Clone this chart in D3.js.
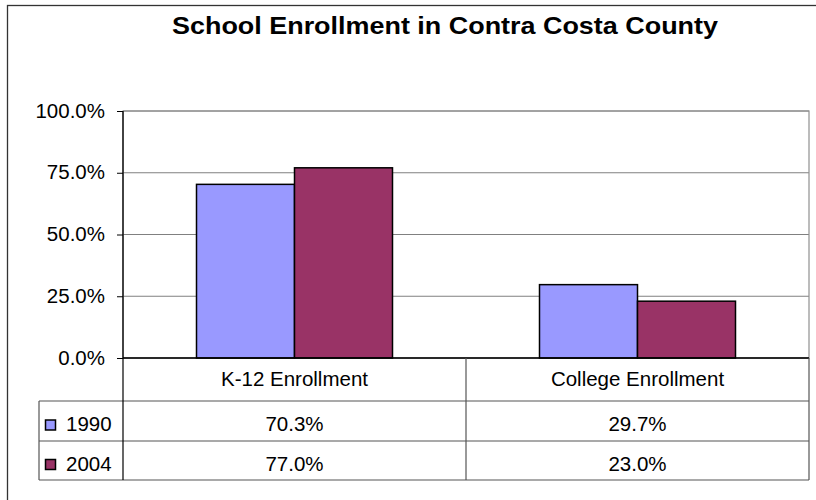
<!DOCTYPE html>
<html>
<head>
<meta charset="utf-8">
<script src="https://cdn.jsdelivr.net/npm/d3@7"></script>
<style>
  body { margin: 0; background: #fff; }
  text { font-family: "Liberation Sans", Arial, sans-serif; fill: #000; }
</style>
</head>
<body>
<div id="chart"></div>
<script>
// chart data
var categories = ["K-12 Enrollment", "College Enrollment"];
var seriesNames = ["1990", "2004"];
var values1990 = [70.3, 29.7];
var values2004 = [77.0, 23.0];
var yTicks = [0, 25, 50, 75, 100];
var colors = ["#9999ff", "#993366"];

var series = [values1990, values2004];

var svgWidth = 816, svgHeight = 500;
var fontSize = "20.5px";

// plot area
var margin = { top: 111, left: 123, right: 7, bottom: 142 };
var chartWidth = svgWidth - margin.left - margin.right;
var chartHeight = svgHeight - margin.top - margin.bottom;

var svg = d3.select("#chart").append("svg")
    .attr("width", svgWidth)
    .attr("height", svgHeight);

// outer frame (runs off the right and bottom edges)
svg.append("rect")
    .attr("x", 7.5).attr("y", 5.5)
    .attr("width", 900).attr("height", 600)
    .attr("fill", "#fff")
    .attr("stroke", "#333")
    .attr("stroke-width", 1.3);

// title
svg.append("text")
    .attr("x", 445).attr("y", 34)
    .attr("text-anchor", "middle")
    .attr("textLength", 546)
    .attr("lengthAdjust", "spacingAndGlyphs")
    .style("font-size", "24px")
    .style("font-weight", "bold")
    .text("School Enrollment in Contra Costa County");

var chartGroup = svg.append("g")
    .attr("transform", `translate(${margin.left}, ${margin.top})`);

var xScale = d3.scaleBand()
    .domain(categories)
    .range([0, chartWidth]);

// gap width 150% like the spreadsheet default
var barWidth = xScale.bandwidth() / (series.length + 1.5);

var yScale = d3.scaleLinear()
    .domain([0, 100])
    .range([chartHeight, 0]);

// gridlines
chartGroup.selectAll(".grid")
    .data(yTicks)
    .enter()
    .append("line")
    .attr("x1", 0).attr("x2", chartWidth)
    .attr("y1", d => yScale(d)).attr("y2", d => yScale(d))
    .attr("stroke", "#808080")
    .attr("stroke-width", 1.2);

// plot frame
chartGroup.append("rect")
    .attr("x", 0).attr("y", 0)
    .attr("width", chartWidth).attr("height", chartHeight)
    .attr("fill", "none")
    .attr("stroke", "#909090")
    .attr("stroke-width", 1.2);

// bars
series.forEach(function(vals, i) {
  chartGroup.selectAll(".bar" + i)
    .data(vals)
    .enter()
    .append("rect")
    .attr("x", (d, j) => xScale(categories[j]) + xScale.bandwidth() / 2 - barWidth + i * barWidth)
    .attr("y", d => yScale(d))
    .attr("width", barWidth)
    .attr("height", d => chartHeight - yScale(d))
    .attr("fill", colors[i])
    .attr("stroke", "#000")
    .attr("stroke-width", 1.5);
});

// y axis
var leftAxis = d3.axisLeft(yScale)
    .tickValues(yTicks)
    .tickSize(6)
    .tickPadding(12)
    .tickFormat(d => d.toFixed(1) + "%");

var yAxisG = chartGroup.append("g").call(leftAxis);
yAxisG.select(".domain").remove();
yAxisG.selectAll("line").attr("stroke", "#000");
yAxisG.selectAll("text")
    .style("font-family", "'Liberation Sans', Arial, sans-serif")
    .style("font-size", fontSize)
    .attr("dy", "0.3em");

// axis lines
chartGroup.append("line")
    .attr("x1", 0).attr("x2", 0)
    .attr("y1", 0).attr("y2", chartHeight)
    .attr("stroke", "#000").attr("stroke-width", 1.3);
chartGroup.append("line")
    .attr("x1", 0).attr("x2", chartWidth)
    .attr("y1", chartHeight).attr("y2", chartHeight)
    .attr("stroke", "#000").attr("stroke-width", 1.3);

// data table under the plot
var rowY = [358, 401, 441, 480];
var tableLeft = 39;
var tableColor = "#555";
var table = svg.append("g");

// horizontal rules
table.selectAll(".hrule")
    .data(rowY.slice(1))
    .enter()
    .append("line")
    .attr("x1", tableLeft).attr("x2", margin.left + chartWidth)
    .attr("y1", d => d).attr("y2", d => d)
    .attr("stroke", tableColor).attr("stroke-width", 1.2);

// vertical rules
var colEdges = [margin.left].concat(categories.map(c => margin.left + xScale(c) + xScale.bandwidth()));
table.selectAll(".vrule")
    .data(colEdges)
    .enter()
    .append("line")
    .attr("x1", d => d).attr("x2", d => d)
    .attr("y1", rowY[0]).attr("y2", rowY[3])
    .attr("stroke", (d, i) => i === 0 ? "#000" : tableColor)
    .attr("stroke-width", 1.2);
table.append("line")
    .attr("x1", tableLeft).attr("x2", tableLeft)
    .attr("y1", rowY[1]).attr("y2", rowY[3])
    .attr("stroke", tableColor).attr("stroke-width", 1.2);

// category labels
table.selectAll(".cat")
    .data(categories)
    .enter()
    .append("text")
    .attr("x", d => margin.left + xScale(d) + xScale.bandwidth() / 2)
    .attr("y", 379)
    .attr("dy", "0.35em")
    .attr("text-anchor", "middle")
    .style("font-size", fontSize)
    .text(d => d);

// value rows
series.forEach(function(vals, i) {
  var cy = (rowY[i + 1] + rowY[i + 2]) / 2 + 3;
  table.selectAll(".val" + i)
    .data(vals)
    .enter()
    .append("text")
    .attr("x", (d, j) => margin.left + xScale(categories[j]) + xScale.bandwidth() / 2)
    .attr("y", cy)
    .attr("dy", "0.35em")
    .attr("text-anchor", "middle")
    .style("font-size", fontSize)
    .text(d => d.toFixed(1) + "%");

  // legend key
  table.append("rect")
    .attr("x", 45.5).attr("y", cy - 4)
    .attr("width", 10).attr("height", 10)
    .attr("fill", colors[i])
    .attr("stroke", "#000")
    .attr("stroke-width", 1.5);
  table.append("text")
    .attr("x", 66)
    .attr("y", cy)
    .attr("dy", "0.35em")
    .style("font-size", fontSize)
    .text(seriesNames[i]);
});
</script>
</body>
</html>
